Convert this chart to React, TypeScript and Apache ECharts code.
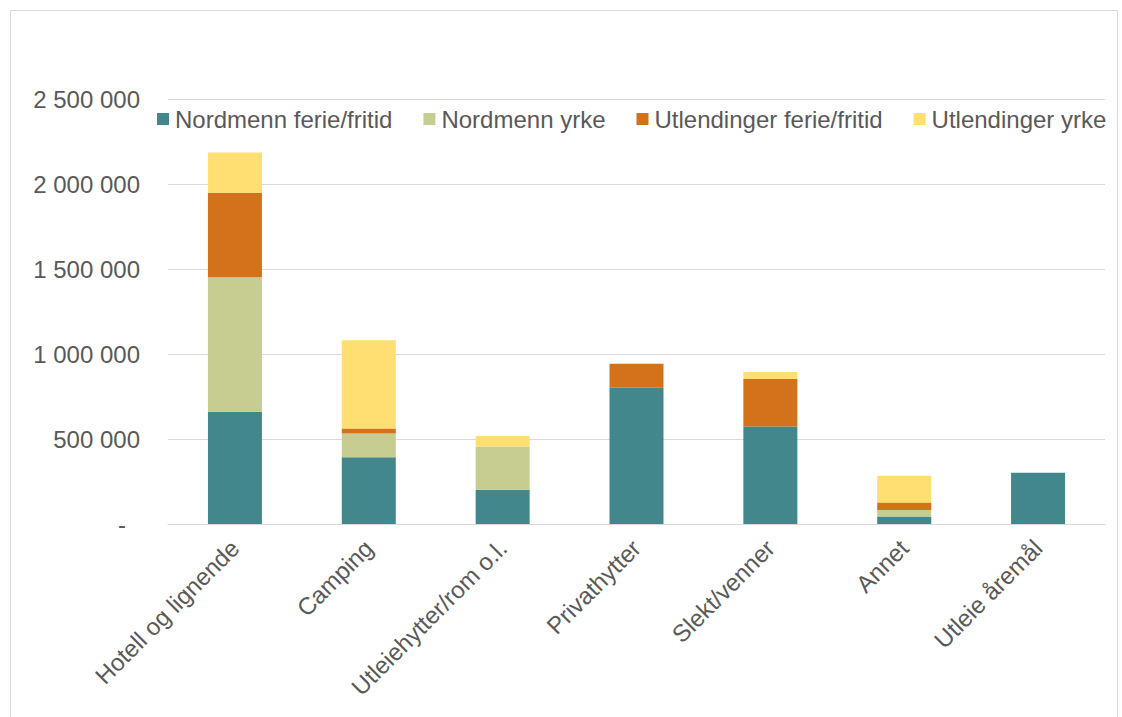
import React, { useEffect, useRef } from "react";
import * as echarts from "echarts";

const categories = [
  "Hotell og lignende",
  "Camping",
  "Utleiehytter/rom o.l.",
  "Privathytter",
  "Slekt/venner",
  "Annet",
  "Utleie åremål",
];
const seriesNames = [
  "Nordmenn ferie/fritid",
  "Nordmenn yrke",
  "Utlendinger ferie/fritid",
  "Utlendinger yrke",
];
const nordmennFerie = [661000, 392000, 202000, 802000, 573000, 44000, 302000];
const nordmennYrke = [790000, 140000, 254000, 0, 0, 39000, 0];
const utlendingerFerie = [498000, 30000, 0, 141000, 280000, 43000, 0];
const utlendingerYrke = [236000, 519000, 61000, 0, 41000, 158000, 0];
const colors = ["#41878B", "#C7CD90", "#D3721B", "#FFDF71"];

const fmt = (v: number) => {
  if (v === 0) return "{z|-}";
  return String(Math.round(v)).replace(/\B(?=(\d{3})+(?!\d))/g, " ");
};

export default function App() {
  const ref = useRef<HTMLDivElement>(null);
  useEffect(() => {
    const chart = echarts.init(ref.current!, null, { renderer: "svg" });
    const font = "Liberation Sans, Arial, sans-serif";
    const dataSets = [nordmennFerie, nordmennYrke, utlendingerFerie, utlendingerYrke];
    chart.setOption({
      animation: false,
      color: colors,
      textStyle: { fontFamily: font },
      graphic: [
        {
          type: "rect",
          shape: { x: 10.5, y: 10.5, width: 1107, height: 720 },
          style: { fill: "none", stroke: "#D9D9D9", lineWidth: 1 },
          silent: true,
        },
      ],
      legend: {
        top: 102,
        left: 152,
        itemWidth: 12,
        itemHeight: 12,
        itemGap: 31,
        icon: "rect",
        data: seriesNames,
        textStyle: { color: "#595959", fontSize: 24, fontFamily: font, padding: [0, 0, 0, 1] },
      },
      grid: { left: 168, right: 17, top: 99, bottom: 193 },
      xAxis: {
        type: "category",
        data: categories,
        axisLine: { show: true, lineStyle: { color: "#D9D9D9", width: 1 } },
        axisTick: { show: false },
        axisLabel: {
          rotate: 45,
          color: "#595959",
          fontSize: 24,
          fontFamily: font,
          margin: 20,
          interval: 0,
        },
      },
      yAxis: {
        type: "value",
        min: 0,
        max: 2500000,
        interval: 500000,
        axisLine: { show: false },
        axisTick: { show: false },
        splitLine: { lineStyle: { color: "#D9D9D9", width: 1 } },
        axisLabel: {
          color: "#595959",
          fontSize: 24,
          fontFamily: font,
          margin: 28,
          formatter: fmt,
          rich: { z: { color: "#595959", fontSize: 24, fontFamily: font, padding: [0, 14, 0, 0] } },
        },
      },
      series: seriesNames.map((name, i) => ({
        name,
        type: "bar",
        stack: "total",
        barWidth: 54,
        data: dataSets[i],
        itemStyle: { color: colors[i] },
      })),
    });
    return () => chart.dispose();
  }, []);
  return (
    <div
      ref={ref}
      style={{ position: "fixed", left: 0, top: 0, width: 1122, height: 717, background: "#fff" }}
    />
  );
}
